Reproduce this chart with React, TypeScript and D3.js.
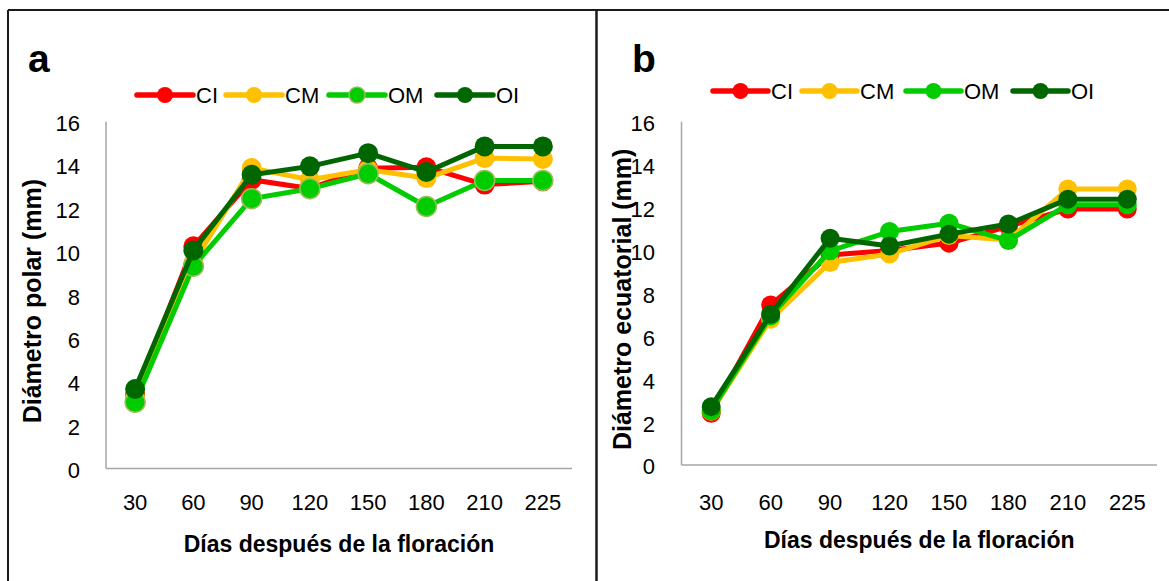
import React from "react";
import * as d3 from "d3";

const categories = ["30", "60", "90", "120", "150", "180", "210", "225"];
const yTicks = [0, 2, 4, 6, 8, 10, 12, 14, 16];
const seriesNames = ["CI", "CM", "OM", "OI"];
const seriesColors = ["#FF0000", "#FFC000", "#00CC00", "#006600"];

// Panel a: Diámetro polar (mm)
const polarCI = [3.4, 10.25, 13.32, 12.92, 13.85, 13.9, 13.1, 13.25];
const polarCM = [3.26, 9.48, 13.86, 13.32, 13.78, 13.4, 14.32, 14.28];
const polarOM = [3.06, 9.33, 12.45, 12.91, 13.6, 12.09, 13.29, 13.29];
const polarOI = [3.67, 10.06, 13.55, 13.94, 14.55, 13.68, 14.86, 14.86];

// Panel b: Diámetro ecuatorial (mm)
const ecuCI = [2.41, 7.46, 9.79, 10.0, 10.34, 11.12, 11.93, 11.93];
const ecuCM = [2.5, 6.79, 9.44, 9.83, 10.7, 10.49, 12.86, 12.86];
const ecuOM = [2.53, 6.95, 9.98, 10.88, 11.27, 10.46, 12.13, 12.13];
const ecuOI = [2.72, 7.03, 10.57, 10.21, 10.76, 11.23, 12.39, 12.39];

const xTitle = "Días después de la floración";

const FONT = "'Liberation Sans', Arial, sans-serif";

type PanelCfg = {
  letter: string;
  letterX: number;
  yTitle: string;
  yTitleX: number;
  series: number[][];
  x0: number;
  x1: number;
  yBottom: number;
  yTop: number;
  tickRight: number;
  legendX: number[];
  legendY: number;
  legendLine: number;
  r: number;
  omOutline: boolean;
  xTitleY: number;
};

function Panel({ cfg }: { cfg: PanelCfg }) {
  const x = d3.scaleBand<string>().domain(categories).range([cfg.x0, cfg.x1]);
  const y = d3.scaleLinear().domain([0, 16]).range([cfg.yBottom, cfg.yTop]);
  const cx = (c: string) => (x(c) as number) + x.bandwidth() / 2;
  const line = d3
    .line<number>()
    .x((_, i) => cx(categories[i]))
    .y((v) => y(v));
  const midX = (cfg.x0 + cfg.x1) / 2;
  const midY = (cfg.yBottom + cfg.yTop) / 2;
  return (
    <g>
      <text x={cfg.letterX} y={72} fontFamily={FONT} fontWeight="bold" fontSize={39} fill="#000">
        {cfg.letter}
      </text>
      {seriesNames.map((n, i) => {
        const lx = cfg.legendX[i];
        const ly = cfg.legendY;
        const isOM = n === "OM";
        return (
          <g key={n}>
            <line
              x1={lx}
              x2={lx + cfg.legendLine}
              y1={ly}
              y2={ly}
              stroke={seriesColors[i]}
              strokeWidth={5.5}
              strokeLinecap="round"
            />
            <circle
              cx={lx + cfg.legendLine / 2}
              cy={ly}
              r={8}
              fill={seriesColors[i]}
              stroke={isOM && cfg.omOutline ? "#9BBB59" : "none"}
              strokeWidth={1.5}
            />
            <text
              x={lx + cfg.legendLine + 3}
              y={ly}
              dy="0.36em"
              fontFamily={FONT}
              fontSize={22}
              fill="#000"
            >
              {n}
            </text>
          </g>
        );
      })}
      <line x1={cfg.x0} x2={cfg.x0} y1={cfg.yTop} y2={cfg.yBottom} stroke="#A6A6A6" strokeWidth={1.5} />
      <line x1={cfg.x0} x2={cfg.x1} y1={cfg.yBottom} y2={cfg.yBottom} stroke="#A6A6A6" strokeWidth={1.5} />
      {yTicks.map((t) => (
        <text
          key={t}
          x={cfg.tickRight}
          y={y(t) + 1.5}
          dy="0.36em"
          textAnchor="end"
          fontFamily={FONT}
          fontSize={22}
          fill="#000"
        >
          {t}
        </text>
      ))}
      {categories.map((c) => (
        <text key={c} x={cx(c)} y={510} textAnchor="middle" fontFamily={FONT} fontSize={22} fill="#000">
          {c}
        </text>
      ))}
      <text
        x={midX}
        y={cfg.xTitleY}
        textAnchor="middle"
        fontFamily={FONT}
        fontWeight="bold"
        fontSize={23}
        fill="#000"
      >
        {xTitle}
      </text>
      <text
        transform={`translate(${cfg.yTitleX},${midY + 6}) rotate(-90)`}
        textAnchor="middle"
        fontFamily={FONT}
        fontWeight="bold"
        fontSize={25}
        fill="#000"
      >
        {cfg.yTitle}
      </text>
      {cfg.series.map((vals, si) => (
        <g key={si}>
          <path
            d={line(vals) || ""}
            fill="none"
            stroke={seriesColors[si]}
            strokeWidth={5}
            strokeLinejoin="round"
            strokeLinecap="round"
          />
          {vals.map((v, i) => (
            <circle
              key={i}
              cx={cx(categories[i])}
              cy={y(v)}
              r={cfg.r}
              fill={seriesColors[si]}
              stroke={seriesNames[si] === "OM" && cfg.omOutline ? "#9BBB59" : "none"}
              strokeWidth={1.5}
            />
          ))}
        </g>
      ))}
    </g>
  );
}

export default function App() {
  const panels: PanelCfg[] = [
    {
      letter: "a",
      letterX: 28,
      yTitle: "Diámetro polar (mm)",
      yTitleX: 41,
      series: [polarCI, polarCM, polarOM, polarOI],
      x0: 106,
      x1: 572,
      yBottom: 468.5,
      yTop: 121.7,
      tickRight: 80,
      legendX: [137, 226, 329, 437],
      legendY: 95,
      legendLine: 56,
      r: 10,
      omOutline: true,
      xTitleY: 552,
    },
    {
      letter: "b",
      letterX: 632,
      yTitle: "Diámetro ecuatorial (mm)",
      yTitleX: 631,
      series: [ecuCI, ecuCM, ecuOM, ecuOI],
      x0: 681.5,
      x1: 1157,
      yBottom: 465,
      yTop: 121.7,
      tickRight: 655,
      legendX: [713, 802, 906, 1013],
      legendY: 91,
      legendLine: 55,
      r: 9.5,
      omOutline: false,
      xTitleY: 548,
    },
  ];
  return (
    <svg
      width={1169}
      height={581}
      style={{ position: "absolute", left: 0, top: 0, background: "#fff" }}
    >
      <rect x={0} y={0} width={1169} height={581} fill="#fff" />
      <line x1={8} x2={1169} y1={10} y2={10} stroke="#1a1a1a" strokeWidth={2} />
      <line x1={8} x2={8} y1={10} y2={581} stroke="#1a1a1a" strokeWidth={2} />
      <line x1={596.5} x2={596.5} y1={10} y2={581} stroke="#1a1a1a" strokeWidth={2.5} />
      {panels.map((p) => (
        <Panel key={p.letter} cfg={p} />
      ))}
    </svg>
  );
}
